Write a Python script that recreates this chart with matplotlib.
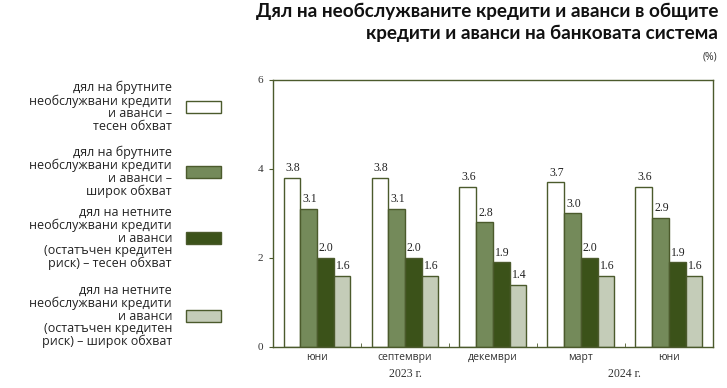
import matplotlib.pyplot as plt
import matplotlib.patches as mpatches
import numpy as np

# Data
months = ["юни", "септември", "декември", "март", "юни"]
years = ["2023 г.", "2024 г."]
year_groups = [[0, 1, 2], [3, 4]]
gross_narrow = [3.8, 3.8, 3.6, 3.7, 3.6]
gross_wide = [3.1, 3.1, 2.8, 3.0, 2.9]
net_narrow = [2.0, 2.0, 1.9, 2.0, 1.9]
net_wide = [1.6, 1.6, 1.4, 1.6, 1.6]
series_labels = [
    "дял на брутните\nнеобслужвани кредити\nи аванси –\nтесен обхват",
    "дял на брутните\nнеобслужвани кредити\nи аванси –\nширок обхват",
    "дял на нетните\nнеобслужвани кредити\nи аванси\n(остатъчен кредитен\nриск) – тесен обхват",
    "дял на нетните\nнеобслужвани кредити\nи аванси\n(остатъчен кредитен\nриск) – широк обхват",
]
title = "Дял на необслужваните кредити и аванси в общите\nкредити и аванси на банковата система"

series = [gross_narrow, gross_wide, net_narrow, net_wide]
colors = ["#ffffff", "#748a5a", "#3b5219", "#c4ccb8"]
edge = "#4b5a2c"
sans = "Open Sans"
serif = "Liberation Serif"

fig = plt.figure(figsize=(7.27, 3.88), dpi=100)
ax = fig.add_axes([0.3755, 0.106, 0.605, 0.688])

x = np.arange(len(months))
w = 0.19
for i, vals in enumerate(series):
    pos = x + (i - 1.5) * w
    ax.bar(pos, vals, width=w, color=colors[i], edgecolor=edge, linewidth=1.0)
    for p, v in zip(pos, vals):
        ax.text(p + 0.01, v + 0.08, f"{v:.1f}", ha="center", va="bottom",
                fontsize=8.5, family=serif, color="#222222")

ax.set_xlim(-0.5, len(months) - 0.5)
ax.set_ylim(0, 6)
ax.set_yticks([0, 2, 4, 6])
ax.set_yticklabels(["0", "2", "4", "6"], family=serif, fontsize=8, color="#333333")
ax.set_xticks(x)
ax.set_xticklabels(months, family=sans, fontsize=7.5, color="#333333")
ax.tick_params(axis="x", length=0, pad=4)
ax.set_xticks(np.arange(len(months) + 1) - 0.5, minor=True)
ax.tick_params(axis="x", which="minor", length=3, color=edge, direction="in")
ax.tick_params(axis="y", length=3, color=edge, direction="out", pad=4)
for s in ax.spines.values():
    s.set_color(edge)
    s.set_linewidth(1.0)

# year labels
for yr, grp in zip(years, year_groups):
    cx = np.mean([x[g] for g in grp])
    ax.text(cx, -0.08, yr, transform=ax.get_xaxis_transform(), ha="center",
            va="top", family=serif, fontsize=8.5, color="#333333")

# title
fig.text(0.988, 0.993, title, ha="right", va="top", fontsize=13.6, fontweight="bold",
         family="Lato", color="#111111", linespacing=1.3)
fig.text(0.987, 0.853, "(%)", ha="right", va="center", fontsize=7.5, family=sans,
         color="#333333")

# legend
legend_y = [107, 172, 238, 316]
for lab, col, yy in zip(series_labels, colors, legend_y):
    yf = 1 - yy / 388
    fig.text(172 / 727, yf, lab, ha="right", va="center", fontsize=9, family=sans,
             color="#222222", linespacing=0.97, multialignment="right")
    fig.patches.append(mpatches.Rectangle((186 / 727, yf - 6 / 388), 35 / 727, 12 / 388,
                                          transform=fig.transFigure, facecolor=col,
                                          edgecolor=edge, linewidth=1.0))

fig.savefig("out.png", dpi=100)
